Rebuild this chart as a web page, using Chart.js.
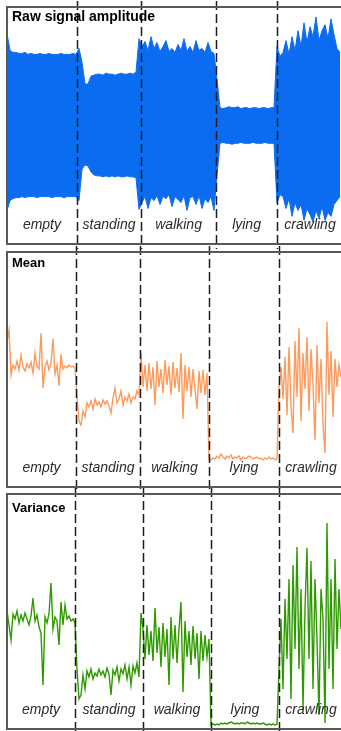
<!DOCTYPE html>
<html>
<head>
<meta charset="utf-8">
<script src="https://cdn.jsdelivr.net/npm/chart.js@4.4.1/dist/chart.umd.min.js"></script>
<style>
    html, body { margin: 0; padding: 0; background: #fff; overflow: hidden; width: 341px; height: 731px; }
    canvas { position: absolute; left: 0; }
</style>
</head>
<body>
<canvas id="raw" width="350" height="250" style="top:0px"></canvas>
<canvas id="mean" width="350" height="247" style="top:245px"></canvas>
<canvas id="variance" width="350" height="244" style="top:487px"></canvas>
<script>
// activities, in time order
const activities = ['empty', 'standing', 'walking', 'lying', 'crawling'];

// raw signal envelope (upper / lower), one value per time bin
const rawUpper = [
    93, 76, 74, 74, 73, 73, 74, 72, 73, 72, 72, 73, 72, 72, 73, 72, 72, 72, 73, 72, 72, 72, 73,
    72, 78, 64, 42, 42, 50, 51, 52, 52, 51, 53, 52, 52, 51, 52, 53, 52, 52, 53, 52, 54, 88,
    80, 85, 76, 90, 78, 84, 75, 80, 86, 75, 78, 74, 82, 76, 88, 75, 80, 74, 86, 76, 78, 74, 84, 75, 73,
    47,
    18, 17, 18, 19, 18, 18, 19, 17, 18, 18, 17, 18, 18, 17, 18, 18, 17, 18, 18,
    80, 70, 74, 86, 72, 90, 76, 96, 80, 104, 84, 100, 90, 110, 86, 96, 102, 88, 108, 92, 78, 74
];
const rawLower = [
    -86, -76, -74, -73, -73, -72, -73, -72, -72, -72, -73, -72, -72, -72, -72, -73, -72, -72, -72, -73, -72, -72, -72,
    -72, -76, -44, -40, -41, -47, -50, -51, -51, -52, -51, -52, -51, -52, -51, -52, -52, -51, -52, -52, -53, -85,
    -78, -72, -84, -73, -76, -71, -80, -72, -74, -70, -82, -72, -75, -78, -71, -86, -73, -72, -80, -71, -84, -74, -78, -72, -86,
    -50,
    -18, -17, -18, -18, -19, -18, -18, -17, -18, -18, -18, -17, -18, -18, -18, -17, -18, -18, -18,
    -78, -70, -72, -84, -74, -92, -78, -86, -80, -96, -84, -90, -98, -86, -94, -82, -96, -88, -92, -80, -76, -72
];
const rawBounds = [23.3, 44.7, 69.7, 90];

// moving mean
const meanValues = [
    145, 157, 112, 122, 118, 126, 117, 132, 120, 116, 123, 119, 125, 114, 134, 121, 118, 154, 99, 120,
    126, 117, 124, 148, 113, 122, 101, 133, 118, 121, 119, 122, 120, 121, 119,
    90, 66, 62, 76, 70, 84, 80, 86, 78, 88, 82, 85, 80, 87, 83, 86, 81, 74, 89, 99,
    84, 88, 96, 82, 90, 86, 93, 84, 90, 88, 96, 92,
    134, 100, 122, 96, 124, 98, 120, 82, 126, 100, 118, 94, 127, 102, 121, 92, 125, 99, 119, 95,
    134, 68, 122, 96, 120, 90, 118, 98, 78, 116, 94, 117, 92, 114,
    28, 27, 29, 28, 31, 29, 33, 30, 28, 31, 29, 32, 28, 30, 29, 31, 27, 30, 28, 29,
    31, 30, 28, 29, 30, 28, 29, 27, 29, 28, 30, 28, 29, 27, 28,
    100, 120, 88, 130, 72, 140, 80, 54, 146, 90, 159, 66, 134, 98, 150, 76, 138, 102, 47, 142,
    84, 128, 62, 34, 165, 92, 136, 70, 128, 100, 122, 110
];
const meanBounds = [34.5, 66.5, 101, 136];

// moving variance
const varianceValues = [
    118, 104, 89, 115, 110, 118, 106, 114, 108, 116, 110, 104, 113, 131, 108, 114, 102, 96, 44, 112,
    106, 115, 146, 100, 112, 108, 84, 127, 104, 124, 110, 113, 108, 110, 106,
    60, 30, 34, 54, 40, 58, 52, 60, 50, 56, 53, 60, 54, 58, 52, 61, 55, 34, 59, 54,
    62, 48, 60, 55, 64, 50, 62, 44, 63, 56, 66, 52, 116,
    100, 70, 104, 74, 98, 68, 121, 76, 102, 62, 106, 72, 100, 44, 112, 70, 104, 66, 100, 127,
    37, 108, 72, 98, 64, 103, 70, 96, 50, 98, 68, 94, 72, 90,
    4, 5, 4, 5, 4, 6, 5, 6, 5, 6, 7, 6, 5, 6, 5, 6, 6, 5, 7, 6,
    5, 6, 5, 6, 5, 5, 6, 5, 4, 5, 4, 5, 4, 5,
    60, 110, 40, 130, 70, 150, 30, 164, 80, 182, 60, 140, 20, 120, 181, 70, 168, 40, 150, 90,
    14, 140, 110, 6, 206, 60, 150, 40, 170, 80, 140, 100
];
const varianceBounds = [34, 68, 102, 136];

const panelTitles = ['Raw signal amplitude', 'Mean', 'Variance'];

// frame, dashed activity separators, labels and title
const panelDecor = {
    id: 'panelDecor',
    afterDatasetsDraw(chart, args, opts) {
        const { ctx, chartArea: a } = chart;
        const x = chart.scales.x;
        ctx.save();

        ctx.strokeStyle = '#1c1c1c';
        ctx.lineWidth = 1.5;
        ctx.setLineDash([9, 4]);
        opts.bounds.forEach(b => {
            const px = Math.round(x.getPixelForValue(b)) + 0.5;
            ctx.beginPath();
            ctx.moveTo(px, a.top - 6);
            ctx.lineTo(px, a.bottom + 5);
            ctx.stroke();
        });
        ctx.setLineDash([]);

        ctx.strokeStyle = '#585858';
        ctx.lineWidth = 2;
        ctx.strokeRect(a.left, a.top, a.right - a.left, a.bottom - a.top);

        ctx.font = 'italic 14px "Liberation Sans", Arial, sans-serif';
        ctx.fillStyle = '#2a2a2a';
        ctx.textAlign = 'center';
        ctx.textBaseline = 'alphabetic';
        const edges = [x.min, ...opts.bounds, x.max];
        activities.forEach((name, k) => {
            ctx.fillText(name, x.getPixelForValue((edges[k] + edges[k + 1]) / 2), a.bottom - 15);
        });

        ctx.font = 'bold ' + opts.titleSize + 'px "Liberation Sans", Arial, sans-serif';
        ctx.fillStyle = '#000';
        ctx.textAlign = 'left';
        ctx.fillText(opts.title, a.left + 5, a.top + opts.titleDrop);
        ctx.restore();
    }
};

function baseOptions(xMax, yMin, yMax, padding, decor) {
    return {
        responsive: false,
        animation: false,
        events: [],
        layout: { padding: padding },
        elements: { point: { radius: 0 }, line: { tension: 0 } },
        scales: {
            x: { type: 'linear', min: 0, max: xMax, display: false },
            y: { min: yMin, max: yMax, display: false }
        },
        plugins: {
            legend: { display: false },
            tooltip: { enabled: false },
            panelDecor: decor
        }
    };
}

const toPoints = arr => arr.map((v, i) => ({ x: i, y: v }));

new Chart(document.getElementById('raw'), {
    type: 'line',
    data: {
        datasets: [{
            data: toPoints(rawUpper),
            borderColor: '#0b6cf2',
            backgroundColor: '#0b6cf2',
            borderWidth: 1,
            fill: '+1'
        }, {
            data: toPoints(rawLower),
            borderColor: '#0b6cf2',
            borderWidth: 1,
            fill: false
        }]
    },
    options: baseOptions(112, -120, 120, { left: 7, right: 7, top: 7, bottom: 6 },
        { bounds: rawBounds, title: panelTitles[0], titleSize: 14, titleDrop: 14 }),
    plugins: [panelDecor]
});

new Chart(document.getElementById('mean'), {
    type: 'line',
    data: {
        datasets: [{
            data: toPoints(meanValues),
            borderColor: '#ff9a5c',
            borderWidth: 1.4,
            fill: false
        }]
    },
    options: baseOptions(168, 0, 235, { left: 7, right: 7, top: 7, bottom: 5 },
        { bounds: meanBounds, title: panelTitles[1], titleSize: 13, titleDrop: 15 }),
    plugins: [panelDecor]
});

new Chart(document.getElementById('variance'), {
    type: 'line',
    data: {
        datasets: [{
            data: toPoints(varianceValues),
            borderColor: '#2f9a00',
            borderWidth: 1.4,
            fill: false
        }]
    },
    options: baseOptions(168, 0, 235, { left: 7, right: 7, top: 7, bottom: 2 },
        { bounds: varianceBounds, title: panelTitles[2], titleSize: 13, titleDrop: 18 }),
    plugins: [panelDecor]
});
</script>
</body>
</html>
